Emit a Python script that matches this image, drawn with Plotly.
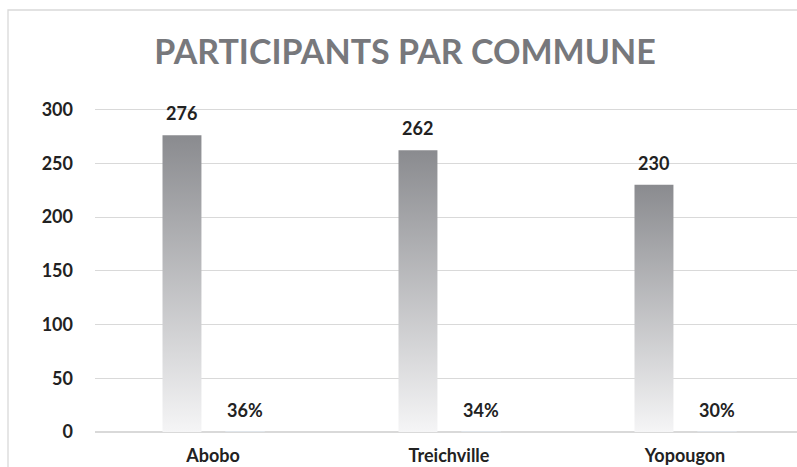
import plotly.graph_objects as go

# ---- data ----
communes = ["Abobo", "Treichville", "Yopougon"]
participants = [276, 262, 230]
parts = [0.36, 0.34, 0.30]
y_ticks = [0, 50, 100, 150, 200, 250, 300]
title_text = "PARTICIPANTS PAR COMMUNE"

# ---- style ----
FONT = "Lato"
TXT = "#222222"
GRID = "#d9d9d9"
BAR_W = 0.165
BAR_OFF = -0.214      # left edge of participants bar relative to category centre
PCT_OFF = 0.136       # centre of percentage label relative to category centre

W, H = 797, 467
ML, MR, MT, MB = 95, 0, 88, 35
PLOT_W = W - ML - MR
PLOT_H = H - MT - MB
X_RANGE = [-0.5, 2.5 - 6 / 236]
Y_RANGE = [0, 320]

fig = go.Figure()

xpos = list(range(len(communes)))

# participants bars with a vertical gradient (one filled rectangle per bar)
for xi, v in zip(xpos, participants):
    x0 = xi + BAR_OFF
    x1 = x0 + BAR_W
    fig.add_trace(go.Scatter(
        x=[x0, x1, x1, x0, x0],
        y=[0, 0, v, v, 0],
        mode="lines",
        line=dict(width=0, color="rgba(0,0,0,0)"),
        fill="toself",
        fillgradient=dict(
            type="vertical",
            colorscale=[[0, "#f5f5f6"], [1, "#8a8b8f"]],
        ),
        hoverinfo="skip",
        showlegend=False,
    ))

# value labels
for xi, v in zip(xpos, participants):
    fig.add_annotation(
        x=xi + BAR_OFF + BAR_W / 2, y=v, xref="x", yref="y",
        text=f"<b>{v}</b>", showarrow=False, yshift=22,
        font=dict(family=FONT, size=18, color=TXT),
    )

# percentage labels (second series, near-zero height)
fig.add_trace(go.Bar(
    x=[xi + PCT_OFF for xi in xpos], y=parts, width=BAR_W,
    marker=dict(color="rgba(0,0,0,0)"), hoverinfo="skip", showlegend=False,
))
for xi, p in zip(xpos, parts):
    fig.add_annotation(
        x=xi + PCT_OFF, y=p, xref="x", yref="y",
        text=f"<b>{round(p * 100)}%</b>", showarrow=False, yshift=22,
        font=dict(family=FONT, size=18, color=TXT),
    )

# chart border (cropped at right and bottom)
def px_to_paper_x(px):
    return (px - ML) / PLOT_W

def px_to_paper_y(py):
    return (H - MB - py) / PLOT_H

fig.add_shape(
    type="rect", xref="paper", yref="paper",
    x0=px_to_paper_x(8), x1=px_to_paper_x(W + 20),
    y0=px_to_paper_y(H + 20), y1=px_to_paper_y(10),
    line=dict(color=GRID, width=1.3), fillcolor="rgba(0,0,0,0)", layer="below",
)

fig.update_layout(
    width=W, height=H,
    margin=dict(l=ML, r=MR, t=MT, b=MB),
    paper_bgcolor="white", plot_bgcolor="white",
    barmode="overlay",
    title=dict(
        text=f"<b>{title_text}</b>", xref="container", yref="container",
        x=405 / W, y=1 - 52 / H, xanchor="center", yanchor="middle",
        font=dict(family=FONT, size=34, color="#77787c"),
    ),
    xaxis=dict(
        range=X_RANGE, tickmode="array", tickvals=xpos, ticktext=communes,
        showgrid=False, zeroline=False, showline=False, ticks="",
        tickfont=dict(family=FONT, size=18, color=TXT, weight="bold"),
        ticklabelstandoff=11, automargin=False,
    ),
    yaxis=dict(
        range=Y_RANGE, tickmode="array", tickvals=y_ticks,
        showgrid=True, gridcolor=GRID, gridwidth=1,
        zeroline=True, zerolinecolor=GRID, zerolinewidth=2,
        showline=False, ticks="",
        tickfont=dict(family=FONT, size=18, color=TXT, weight="bold"),
        ticklabelstandoff=21, automargin=False,
    ),
)

fig.write_html("out.html")
